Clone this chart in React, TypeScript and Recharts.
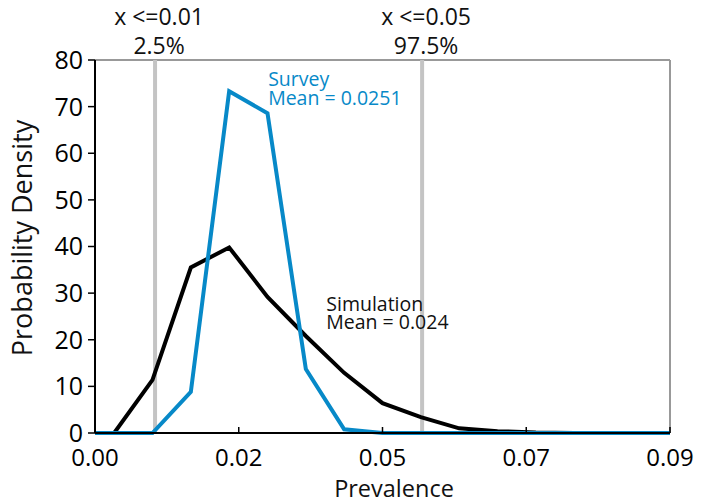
import { LineChart, Line, XAxis, YAxis, ReferenceLine, ReferenceDot } from "recharts";

// prevalence grid shared by both density curves
const prevalence = [0, 0.003, 0.009, 0.015, 0.021, 0.027, 0.033, 0.039, 0.045, 0.051, 0.057, 0.063, 0.069, 0.075, 0.081, 0.087, 0.09];
const simulation = [0, 0, 11.4, 35.5, 39.8, 29.2, 20.8, 12.9, 6.4, 3.4, 1.0, 0.4, 0.1, 0, 0, 0, 0];
const survey = [0, 0, 0, 8.8, 73.3, 68.6, 13.7, 0.8, 0, 0, 0, 0, 0, 0, 0, 0, 0];

const xTicks = [0, 0.0225, 0.045, 0.0675, 0.09];
const xTickLabels = ["0.00", "0.02", "0.05", "0.07", "0.09"];
const yTicks = [0, 10, 20, 30, 40, 50, 60, 70, 80];

const cutoffs = [0.0094, 0.0512];
const cutoffRules = ["x <=0.01", "x <=0.05"];
const cutoffPercents = ["2.5%", "97.5%"];

const FONT = "'Open Sans', sans-serif";
const BLUE = "#0789c8";
const GRAY = "#c4c4c4";

const data = prevalence.map((x, i) => ({ x, sim: simulation[i], survey: survey[i] }));

function cutoffLabel(rule: string, pct: string) {
  return (props: any) => {
    const vb = props.viewBox || {};
    const cx = vb.x + 4;
    return (
      <text fontFamily={FONT} fontSize={23} fill="#111" textAnchor="middle">
        <tspan x={cx} y={vb.y - 35}>{rule}</tspan>
        <tspan x={cx} y={vb.y - 6}>{pct}</tspan>
      </text>
    );
  };
}

function noteLabel(lines: string[], color: string) {
  return (props: any) => {
    const vb = props.viewBox || {};
    return (
      <text fontFamily={FONT} fontSize={19.5} fill={color} textAnchor="start">
        {lines.map((l, i) => (
          <tspan key={i} x={vb.x} y={vb.y + 7 + i * 18.5}>{l}</tspan>
        ))}
      </text>
    );
  };
}

export default function App() {
  return (
    <div style={{ position: "absolute", left: 0, top: 0, background: "#fff" }}>
      <LineChart width={702} height={504} data={data} margin={{ top: 60, right: 32, bottom: 0, left: 0 }}>
        <XAxis
          dataKey="x"
          type="number"
          domain={[0, 0.09]}
          ticks={xTicks}
          tickFormatter={(v: number) => xTickLabels[xTicks.indexOf(v)] ?? ""}
          height={71}
          tickSize={-6}
          tickMargin={22}
          axisLine={{ stroke: "#000", strokeWidth: 2 }}
          tickLine={{ stroke: "#000", strokeWidth: 1.5 }}
          tick={{ fontFamily: FONT, fontSize: 24, fill: "#000" }}
          label={{
            content: () => (
              <text x={394} y={497} textAnchor="middle" fontFamily={FONT} fontSize={23.5} fill="#111">
                Prevalence
              </text>
            ),
          }}
        />
        <YAxis
          type="number"
          domain={[0, 80]}
          ticks={yTicks}
          width={95}
          tickSize={7}
          tickMargin={5}
          interval={0}
          axisLine={{ stroke: "#000", strokeWidth: 2 }}
          tickLine={{ stroke: "#000", strokeWidth: 1.5 }}
          tick={{ fontFamily: FONT, fontSize: 25, fill: "#000" }}
          label={{
            content: () => (
              <text
                x={21}
                y={238}
                transform="rotate(-90 21 238)"
                textAnchor="middle"
                dominantBaseline="central"
                fontFamily={FONT}
                fontSize={27}
                fill="#111"
              >
                Probability Density
              </text>
            ),
          }}
        />
        <ReferenceLine y={80} stroke="#999" strokeWidth={2} />
        <ReferenceLine x={0.09} stroke="#999" strokeWidth={2} />
        {cutoffs.map((c, i) => (
          <ReferenceLine
            key={c}
            x={c}
            stroke={GRAY}
            strokeWidth={4}
            label={cutoffLabel(cutoffRules[i], cutoffPercents[i])}
          />
        ))}
        <Line
          dataKey="sim"
          stroke="#000"
          strokeWidth={4}
          dot={false}
          strokeLinejoin="miter"
          isAnimationActive={false}
        />
        <Line
          dataKey="survey"
          stroke={BLUE}
          strokeWidth={4}
          dot={false}
          strokeLinejoin="miter"
          isAnimationActive={false}
        />
        <ReferenceDot
          x={0.0271}
          y={75.9}
          r={0}
          fill="none"
          stroke="none"
          label={noteLabel(["Survey", "Mean = 0.0251"], BLUE)}
        />
        <ReferenceDot
          x={0.0362}
          y={27.7}
          r={0}
          fill="none"
          stroke="none"
          label={noteLabel(["Simulation", "Mean = 0.024"], "#111")}
        />
      </LineChart>
    </div>
  );
}
